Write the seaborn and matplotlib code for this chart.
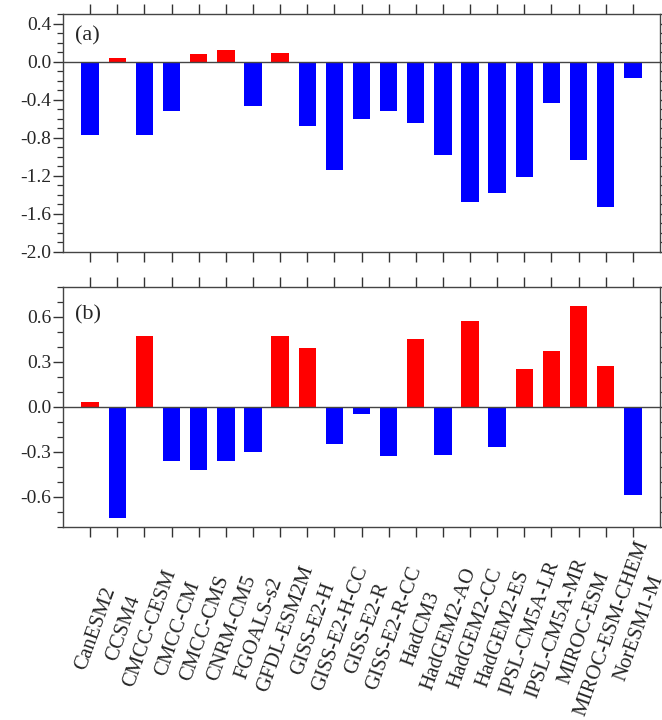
import numpy as np
import pandas as pd
import matplotlib
matplotlib.use("Agg")
import matplotlib.pyplot as plt
import matplotlib.transforms as mtransforms
from matplotlib.ticker import MultipleLocator, FormatStrFormatter
import seaborn as sns

models = ["CanESM2", "CCSM4", "CMCC-CESM", "CMCC-CM", "CMCC-CMS", "CNRM-CM5",
          "FGOALS-s2", "GFDL-ESM2M", "GISS-E2-H", "GISS-E2-H-CC", "GISS-E2-R",
          "GISS-E2-R-CC", "HadCM3", "HadGEM2-AO", "HadGEM2-CC", "HadGEM2-ES",
          "IPSL-CM5A-LR", "IPSL-CM5A-MR", "MIROC-ESM", "MIROC-ESM-CHEM", "NorESM1-M"]

values_a = [-0.77, 0.04, -0.77, -0.52, 0.08, 0.12, -0.47, 0.09, -0.68, -1.14,
            -0.60, -0.52, -0.65, -0.98, -1.47, -1.38, -1.21, -0.44, -1.03, -1.53, -0.17]
values_b = [0.035, -0.74, 0.47, -0.36, -0.42, -0.36, -0.30, 0.475, 0.39, -0.25,
            -0.045, -0.33, 0.45, -0.32, 0.575, -0.27, 0.25, 0.375, 0.67, 0.27, -0.59]

panel_labels = ["(a)", "(b)"]

sns.set_style("ticks")
plt.rcParams["font.family"] = ["Liberation Serif", "DejaVu Serif"]
plt.rcParams["axes.unicode_minus"] = False

fig = plt.figure(figsize=(6.62, 7.2), dpi=100)
left = 63 / 662
width = (660 - 63) / 662
ax_a = fig.add_axes([left, 1 - 252 / 720, width, 238 / 720])
ax_b = fig.add_axes([left, 1 - 527 / 720, width, 240 / 720])

palette = {"pos": "#ff0000", "neg": "#0000ff"}

def draw(ax, vals, ylim, major, minor, label, label_y):
    df = pd.DataFrame({"model": models, "value": vals,
                       "sign": ["pos" if v > 0 else "neg" for v in vals]})
    sns.barplot(data=df, x="model", y="value", hue="sign", palette=palette,
                order=models, dodge=False, legend=False, width=0.64,
                saturation=1, linewidth=0, ax=ax)
    ax.axhline(0, color="#444444", lw=1.0, zorder=3)
    ax.set_xlim(-1, len(models) - 1 + 1)
    ax.set_ylim(*ylim)
    ax.yaxis.set_major_locator(MultipleLocator(major))
    ax.yaxis.set_minor_locator(MultipleLocator(minor))
    ax.yaxis.set_major_formatter(FormatStrFormatter("%.1f"))
    ax.set_xlabel("")
    ax.set_ylabel("")
    for s in ax.spines.values():
        s.set_visible(True)
        s.set_linewidth(1.0)
        s.set_color("#444444")
    ax.tick_params(axis="both", which="major", direction="out", length=7,
                   width=1.0, color="#333333", labelsize=14, pad=1.5)
    ax.tick_params(axis="y", which="minor", direction="out", length=4,
                   width=0.9, color="#333333")
    ax.tick_params(axis="x", top=True, bottom=True)
    ax.tick_params(axis="y", which="both", left=True, right=True)
    ax.text(0.02, label_y, label, transform=ax.transAxes, ha="left",
            va="center", fontsize=16)

draw(ax_a, values_a, (-2.0, 0.5), 0.4, 0.1, panel_labels[0], 0.908)
draw(ax_b, values_b, (-0.8, 0.8), 0.3, 0.1, panel_labels[1], 0.883)

ax_a.tick_params(axis="x", labelbottom=False)
ax_b.set_xticks(range(len(models)))
ax_b.set_xticklabels(models, rotation=70, ha="center", va="center",
                     rotation_mode="anchor", fontsize=15)
ax_b.tick_params(axis="x", pad=66)
offset = mtransforms.ScaledTranslation(6 / 100, 0, fig.dpi_scale_trans)
for lab in ax_b.get_xticklabels():
    lab.set_transform(lab.get_transform() + offset)

fig.savefig("out.png", dpi=100)
